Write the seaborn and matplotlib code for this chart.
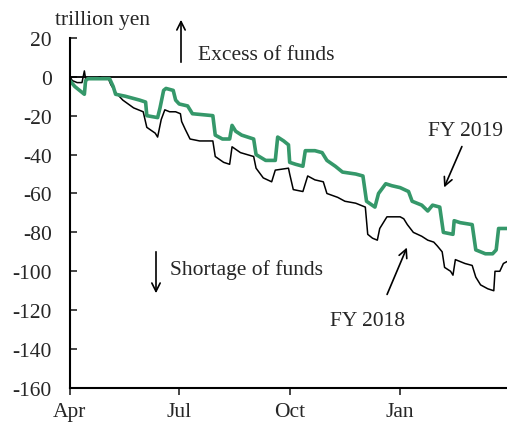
import matplotlib
matplotlib.use("Agg")
import matplotlib.pyplot as plt
import seaborn as sns
import pandas as pd

# days counted from 1 April, values in trillion yen
fy2019_days = [0, 4, 10, 12, 13, 15, 25, 33, 36, 38, 46, 52, 58, 63, 64, 73, 75, 78, 80, 86,
               88, 91, 98, 102, 119, 121, 127, 133, 135, 138, 143, 153, 155, 163, 171, 173, 178,
               182, 183, 188, 194, 196, 204, 210, 214, 221, 227, 238, 244, 247, 254, 257, 263,
               268, 275, 282, 285, 293, 298, 302, 308, 311, 319, 320, 325, 335, 338, 346, 352,
               355, 357, 364]
fy2019_vals = [-2, -5, -8, -9, -2, -1, -1, -1, -5, -9, -10, -11, -12, -13, -20, -21, -16, -7, -6, -7,
               -12, -14, -15, -19, -20, -30, -32, -32, -25, -28, -30, -32, -40, -43, -43, -31, -33,
               -35, -44, -45, -46, -38, -38, -39, -43, -46, -49, -50, -51, -64, -67, -60, -55,
               -56, -57, -59, -64, -66, -69, -66, -67, -80, -81, -74, -75, -76, -89, -91, -91,
               -89, -78, -78]

fy2018_days = [0, 2, 6, 10, 12, 13, 21, 25, 28, 32, 34, 38, 44, 53, 61, 64, 71, 73, 76, 79, 83,
               88, 92, 93, 96, 100, 108, 119, 121, 128, 133, 135, 142, 153, 155, 161, 168, 171,
               182, 183, 186, 194, 198, 204, 211, 214, 223, 229, 238, 246, 248, 252, 256, 258,
               264, 275, 278, 281, 286, 293, 298, 303, 306, 310, 312, 317, 319, 321, 329, 335,
               338, 342, 348, 353, 354, 358, 361, 364]
fy2018_vals = [0, -2, -3, -3, 3, -1, -1, 0, -1, -1, -4, -8, -12, -16, -18, -26, -29, -31, -22, -17, -18,
               -18, -19, -23, -27, -32, -33, -33, -41, -44, -45, -36, -39, -41, -47, -52, -54, -48,
               -47, -50, -58, -59, -51, -53, -54, -60, -62, -64, -65, -67, -81, -83, -84, -78,
               -72, -72, -73, -76, -80, -82, -84, -85, -87, -90, -98, -100, -102, -94, -96, -97,
               -103, -107, -109, -110, -100, -100, -96, -95]

month_ticks = [0, 91, 183, 275]
month_labels = ["Apr", "Jul", "Oct", "Jan"]

df19 = pd.DataFrame({"day": fy2019_days, "value": fy2019_vals})
df18 = pd.DataFrame({"day": fy2018_days, "value": fy2018_vals})

sns.set_style("white")
plt.rcParams["font.family"] = ["Liberation Serif", "DejaVu Serif"]
plt.rcParams["axes.unicode_minus"] = False

fig = plt.figure(figsize=(5.07, 4.27), dpi=100)
ax = fig.add_axes([0.138, 0.089, 0.862, 0.82])

sns.lineplot(data=df18, x="day", y="value", color="black", lw=1.1, ax=ax,
             estimator=None, sort=False)
sns.lineplot(data=df19, x="day", y="value", color="#35986a", lw=2.6, ax=ax,
             estimator=None, sort=False)
ax.axhline(0, color="black", lw=1.3, zorder=1)

ax.set_xlim(0, 364)
ax.set_ylim(-160, 20)
ax.set_yticks(range(-160, 21, 20))
ax.set_xticks(month_ticks)
ax.set_xticklabels(month_labels)
ax.set_xlabel("")
ax.set_ylabel("")
ax.tick_params(axis="y", direction="in", length=5, width=1.2, labelsize=15.5, pad=13, left=True)
ax.tick_params(axis="x", direction="out", length=5, width=1.2, labelsize=15.5, pad=5, bottom=True)
for s in ["top", "right"]:
    ax.spines[s].set_visible(False)
for s in ["left", "bottom"]:
    ax.spines[s].set_color("black")
    ax.spines[s].set_linewidth(1.5)

fs = 15.5
fig.text(55 / 507, 1 - 20 / 427, "trillion yen", fontsize=fs, va="center", ha="left")

def px(x, y):
    return (x / 507, 1 - y / 427)

arrow = dict(arrowstyle="->", color="black", lw=1.2, mutation_scale=15)
ax.annotate("", xy=px(181, 18), xytext=px(181, 66), xycoords="figure fraction",
            textcoords="figure fraction", arrowprops=arrow)
fig.text(198 / 507, 1 - 55 / 427, "Excess of funds", fontsize=fs, va="center", ha="left")

ax.annotate("", xy=px(156, 297), xytext=px(156, 250), xycoords="figure fraction",
            textcoords="figure fraction", arrowprops=arrow)
fig.text(170 / 507, 1 - 270 / 427, "Shortage of funds", fontsize=fs, va="center", ha="left")

fig.text(428 / 507, 1 - 132 / 427, "FY 2019", fontsize=fs, va="center", ha="left")
ax.annotate("", xy=px(443, 191), xytext=px(463, 145), xycoords="figure fraction",
            textcoords="figure fraction", arrowprops=arrow)

fig.text(330 / 507, 1 - 322 / 427, "FY 2018", fontsize=fs, va="center", ha="left")
ax.annotate("", xy=px(408, 246), xytext=px(386, 298), xycoords="figure fraction",
            textcoords="figure fraction", arrowprops=arrow)

fig.savefig("out.png", dpi=100)
